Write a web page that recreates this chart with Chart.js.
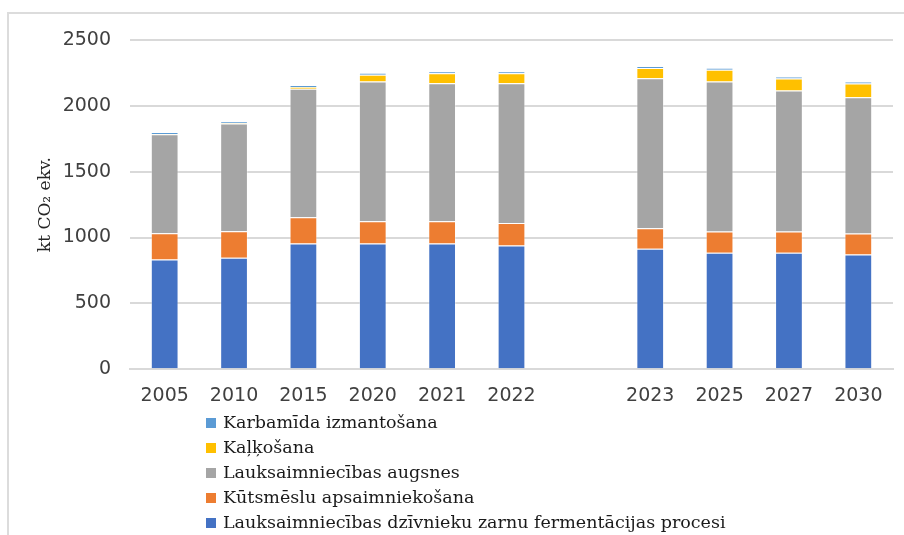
<!DOCTYPE html>
<html>
<head>
<meta charset="utf-8">
<script src="https://cdn.jsdelivr.net/npm/chart.js@4"></script>
<style>
  html, body { margin: 0; padding: 0; background: #fff; overflow: hidden; }
  #wrap { position: relative; width: 904px; height: 535px; overflow: hidden; }
  .edge { position: absolute; background: #dcdcdc; }
  #edgeTop { left: 7px; top: 12px; width: 897px; height: 2px; }
  #edgeLeft { left: 7px; top: 12px; width: 2px; height: 523px; }
  #chartBox { position: absolute; left: 0; top: 0; width: 904px; height: 422px; }
  #legend { position: absolute; left: 206px; top: 410px; margin: 0; padding: 0; list-style: none;
            font-family: "DejaVu Serif", serif; font-size: 17.5px; color: #1a1a1a; }
  #legend li { height: 25px; line-height: 25px; display: flex; align-items: center; white-space: nowrap; }
  #legend span.box { width: 10px; height: 10px; margin-right: 7px; display: inline-block; }
</style>
</head>
<body>
<div id="wrap">
  <div class="edge" id="edgeTop"></div>
  <div class="edge" id="edgeLeft"></div>
  <div id="chartBox"><canvas id="emissionsChart"></canvas></div>
  <ul id="legend"></ul>
</div>
<script>
// years, with an empty slot between history and projections
const years = ['2005', '2010', '2015', '2020', '2021', '2022', '', '2023', '2025', '2027', '2030'];

const entericFermentation = [833, 846, 955, 955, 955, 939, null, 914, 884, 884, 871];
const manureManagement = [200, 202, 199, 169, 169, 172, null, 157, 161, 161, 159];
const agriculturalSoils = [752, 818, 975, 1060, 1047, 1060, null, 1138, 1139, 1071, 1036];
const liming = [2, 3, 15, 53, 76, 76, null, 79, 91, 91, 103];
const ureaApplication = [13, 13, 15, 15, 16, 15, null, 15, 15, 15, 15];

const yTicks = [0, 500, 1000, 1500, 2000, 2500];

const series = [
    { label: 'Lauksaimniecības dzīvnieku zarnu fermentācijas procesi', data: entericFermentation, color: '#4472c4' },
    { label: 'Kūtsmēslu apsaimniekošana', data: manureManagement, color: '#ed7d31' },
    { label: 'Lauksaimniecības augsnes', data: agriculturalSoils, color: '#a5a5a5' },
    { label: 'Kaļķošana', data: liming, color: '#ffc000' },
    { label: 'Karbamīda izmantošana', data: ureaApplication, color: '#5b9bd5' }
];

const ctx = document.getElementById('emissionsChart');

const chart = new Chart(ctx, {
    type: 'bar',
    data: {
        labels: years,
        datasets: series.map(s => ({
            label: s.label,
            data: s.data,
            backgroundColor: s.color,
            borderColor: 'rgba(255,255,255,0.35)',
            borderWidth: 1,
            categoryPercentage: 1,
            barPercentage: 0.4
        }))
    },
    options: {
        responsive: true,
        maintainAspectRatio: false,
        animation: false,
        layout: { padding: { top: 40, right: 11, left: 35, bottom: 0 } },
        scales: {
            x: {
                stacked: true,
                grid: { display: false, drawTicks: false },
                border: { color: '#d9d9d9', width: 2 },
                ticks: {
                    color: '#404040',
                    padding: 15,
                    maxRotation: 0,
                    autoSkip: false,
                    font: { family: 'DejaVu Sans', size: 19 }
                }
            },
            y: {
                stacked: true,
                min: 0,
                max: 2500,
                afterBuildTicks: axis => { axis.ticks = yTicks.map(v => ({ value: v })); },
                afterFit: axis => { axis.width = 95; },
                grid: { color: '#d9d9d9', lineWidth: 2, drawTicks: false },
                border: { display: false },
                ticks: {
                    color: '#404040',
                    padding: 19,
                    callback: v => String(v),
                    font: { family: 'DejaVu Sans', size: 19 }
                },
                title: {
                    display: true,
                    text: 'kt CO₂ ekv.',
                    color: '#262626',
                    padding: 0,
                    font: { family: 'DejaVu Serif', size: 17 }
                }
            }
        },
        plugins: {
            legend: { display: false },
            tooltip: { enabled: false }
        }
    }
});

// legend drawn as a plain list, last series first like the original
const legendEl = document.getElementById('legend');
chart.data.datasets.slice().reverse().forEach(ds => {
    const li = document.createElement('li');
    const box = document.createElement('span');
    box.className = 'box';
    box.style.background = ds.backgroundColor;
    li.appendChild(box);
    li.appendChild(document.createTextNode(ds.label));
    legendEl.appendChild(li);
});
</script>
</body>
</html>
